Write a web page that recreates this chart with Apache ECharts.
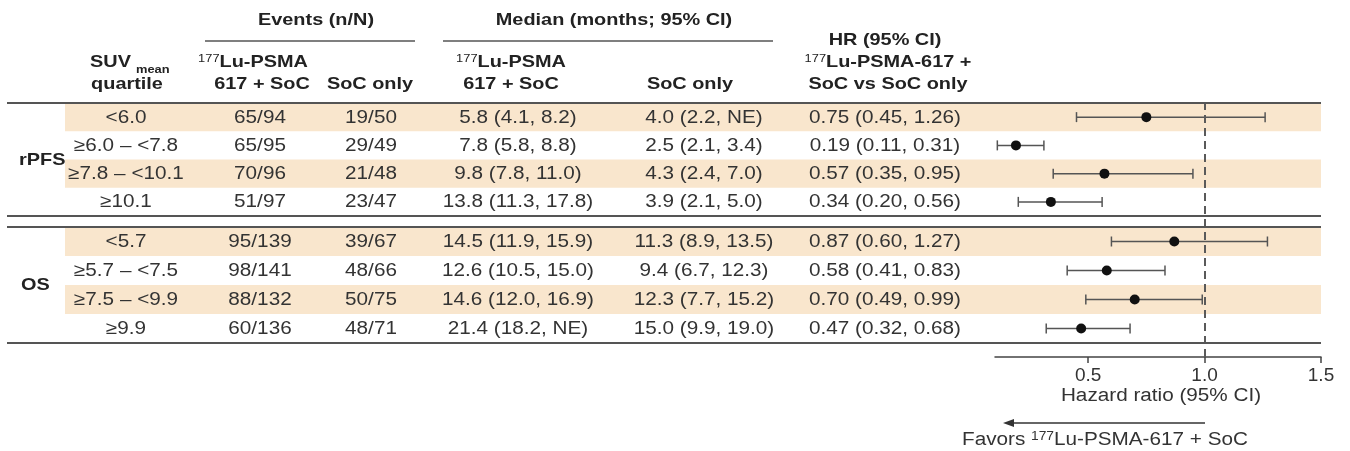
<!DOCTYPE html>
<html>
<head>
<meta charset="utf-8">
<script src="https://cdn.jsdelivr.net/npm/echarts@6/dist/echarts.min.js"></script>
<style>
  html, body { margin: 0; padding: 0; background: #fff; }
  #chart { width: 1350px; height: 451px; }
</style>
</head>
<body>
<div id="chart"></div>
<script>
// ---- data ----
const rowIds = ['0', '1', '2', '3'];

const rpfsQuartiles = ['<6.0', '≥6.0 – <7.8', '≥7.8 – <10.1', '≥10.1'];
const rpfsEventsLu = ['65/94', '65/95', '70/96', '51/97'];
const rpfsEventsSoc = ['19/50', '29/49', '21/48', '23/47'];
const rpfsMedianLu = ['5.8 (4.1, 8.2)', '7.8 (5.8, 8.8)', '9.8 (7.8, 11.0)', '13.8 (11.3, 17.8)'];
const rpfsMedianSoc = ['4.0 (2.2, NE)', '2.5 (2.1, 3.4)', '4.3 (2.4, 7.0)', '3.9 (2.1, 5.0)'];
const rpfsHr = [0.75, 0.19, 0.57, 0.34];
const rpfsHrLow = [0.45, 0.11, 0.35, 0.20];
const rpfsHrHigh = [1.26, 0.31, 0.95, 0.56];

const osQuartiles = ['<5.7', '≥5.7 – <7.5', '≥7.5 – <9.9', '≥9.9'];
const osEventsLu = ['95/139', '98/141', '88/132', '60/136'];
const osEventsSoc = ['39/67', '48/66', '50/75', '48/71'];
const osMedianLu = ['14.5 (11.9, 15.9)', '12.6 (10.5, 15.0)', '14.6 (12.0, 16.9)', '21.4 (18.2, NE)'];
const osMedianSoc = ['11.3 (8.9, 13.5)', '9.4 (6.7, 12.3)', '12.3 (7.7, 15.2)', '15.0 (9.9, 19.0)'];
const osHr = [0.87, 0.58, 0.70, 0.47];
const osHrLow = [0.60, 0.41, 0.49, 0.32];
const osHrHigh = [1.27, 0.83, 0.99, 0.68];

const hrTicks = [0.5, 1.0, 1.5];
const hrMin = 0.1, hrMax = 1.5, hrRef = 1.0;

// ---- styling ----
const FONT = '"Liberation Sans", Arial, Helvetica, sans-serif';
const SX = 1.15;             // horizontal stretch applied to table text
const SXB = 1.17;            // stretch for bold header text
const TXT = '#333333';
const HEAD = '#222222';
const BAND = '#F9E6CD';
const RULE = '#555555';
const supRich = {
  s: { fontSize: 11, fontFamily: FONT, verticalAlign: 'top', lineHeight: 12, fill: HEAD, color: HEAD },
  sn: { fontSize: 12, fontFamily: FONT, verticalAlign: 'top', lineHeight: 12, fill: TXT, color: TXT }
};

function txt(x, y, text, o) {
  o = o || {};
  const align = o.align || 'center';
  const weight = o.bold ? 'bold ' : '';
  const size = o.size || (o.bold ? 17 : 18);
  return {
    type: 'text', x: x, y: y, scaleX: o.bold ? SXB : SX, silent: true, z: o.z || 10,
    style: {
      text: text, x: 0, y: 0,
      font: weight + size + 'px ' + FONT,
      fill: o.color || (o.bold ? HEAD : TXT),
      align: align, textAlign: align,
      verticalAlign: 'middle', textVerticalAlign: 'middle',
      rich: o.rich
    }
  };
}

function hrText(h, l, u) {
  return h.toFixed(2) + ' (' + l.toFixed(2) + ', ' + u.toFixed(2) + ')';
}

// column centres of the table
const COL = { quart: 126, evLu: 260, evSoc: 371, medLu: 518, medSoc: 704, hr: 885 };
const BAND_LEFT = 65;

function tableSeries(idx, q, eLu, eSoc, mLu, mSoc, hr, lo, hi) {
  return {
    type: 'custom', xAxisIndex: idx, yAxisIndex: idx, z: 1, silent: true, clip: false,
    data: q.map((_, i) => [hrMin, i]),
    encode: { x: 0, y: 1 },
    renderItem: function (params, api) {
      const i = api.value(1);
      const c = api.coord([api.value(0), i]);
      const h = api.size([0, 1])[1];
      const cs = params.coordSys;
      const y = c[1] + 0.5;
      const kids = [];
      if (i % 2 === 0) {
        kids.push({ type: 'rect', shape: { x: BAND_LEFT, y: c[1] - h / 2, width: cs.x + cs.width - BAND_LEFT, height: h },
          style: { fill: BAND }, z2: 0 });
      }
      kids.push(txt(COL.quart, y, q[i]));
      kids.push(txt(COL.evLu, y, eLu[i]));
      kids.push(txt(COL.evSoc, y, eSoc[i]));
      kids.push(txt(COL.medLu, y, mLu[i]));
      kids.push(txt(COL.medSoc, y, mSoc[i]));
      kids.push(txt(COL.hr, y, hrText(hr[i], lo[i], hi[i])));
      return { type: 'group', children: kids };
    }
  };
}

function ciSeries(idx, lo, hi) {
  return {
    type: 'custom', xAxisIndex: idx, yAxisIndex: idx, z: 4, silent: true, clip: false,
    data: lo.map((l, i) => [l, hi[i], i]),
    encode: { x: [0, 1], y: 2 },
    renderItem: function (params, api) {
      const a = api.coord([api.value(0), api.value(2)]);
      const b = api.coord([api.value(1), api.value(2)]);
      const cap = 5;
      const st = { stroke: '#555', lineWidth: 1.5 };
      return {
        type: 'group', children: [
          { type: 'line', shape: { x1: a[0], y1: a[1], x2: b[0], y2: b[1] }, style: st },
          { type: 'line', shape: { x1: a[0], y1: a[1] - cap, x2: a[0], y2: a[1] + cap }, style: st },
          { type: 'line', shape: { x1: b[0], y1: b[1] - cap, x2: b[0], y2: b[1] + cap }, style: st }
        ]
      };
    }
  };
}

function pointSeries(idx, hr) {
  return {
    type: 'scatter', xAxisIndex: idx, yAxisIndex: idx, z: 5, silent: true,
    symbol: 'circle', symbolSize: 10,
    itemStyle: { color: '#111', opacity: 1 },
    data: hr.map((v, i) => [v, i])
  };
}

const GRID_LEFT = 995, GRID_RIGHT = 29;
const hiddenX = { type: 'value', min: hrMin, max: hrMax, show: false };
const catY = { type: 'category', data: rowIds, inverse: true, show: false };

const chart = echarts.init(document.getElementById('chart'), null, { renderer: 'canvas' });

const graphics = [];
// table rules
[103, 216, 227, 343].forEach(y => graphics.push({
  type: 'line', silent: true, z: 6, shape: { x1: 7, y1: y, x2: 1321, y2: y }, style: { stroke: RULE, lineWidth: 2 }
}));
// spanner underlines
graphics.push({ type: 'line', silent: true, shape: { x1: 205, y1: 41, x2: 415, y2: 41 }, style: { stroke: RULE, lineWidth: 1.5 } });
graphics.push({ type: 'line', silent: true, shape: { x1: 443, y1: 41, x2: 773, y2: 41 }, style: { stroke: RULE, lineWidth: 1.5 } });

// headers
graphics.push(txt(316, 20, 'Events (n/N)', { bold: true }));
graphics.push(txt(614, 20, 'Median (months; 95% CI)', { bold: true }));
graphics.push(txt(885, 40, 'HR (95% CI)', { bold: true }));
graphics.push(txt(888, 62, '{s|177}Lu-PSMA-617 +', { bold: true, rich: supRich }));
graphics.push(txt(888, 84, 'SoC vs SoC only', { bold: true }));
graphics.push(txt(90, 62, 'SUV', { bold: true, align: 'left' }));
graphics.push(txt(136, 70, 'mean', { bold: true, align: 'left', size: 11 }));
graphics.push(txt(127, 84, 'quartile', { bold: true }));
graphics.push(txt(253, 62, '{s|177}Lu-PSMA', { bold: true, rich: supRich }));
graphics.push(txt(262, 84, '617 + SoC', { bold: true }));
graphics.push(txt(370, 84, 'SoC only', { bold: true }));
graphics.push(txt(511, 62, '{s|177}Lu-PSMA', { bold: true, rich: supRich }));
graphics.push(txt(511, 84, '617 + SoC', { bold: true }));
graphics.push(txt(690, 84, 'SoC only', { bold: true }));
// row group labels
graphics.push(txt(19, 160, 'rPFS', { bold: true, align: 'left' }));
graphics.push(txt(21, 285, 'OS', { bold: true, align: 'left' }));

// axis title and direction note
graphics.push(txt(1161, 396, 'Hazard ratio (95% CI)'));
graphics.push({ type: 'line', silent: true, shape: { x1: 1205, y1: 423, x2: 1010, y2: 423 }, style: { stroke: '#333', lineWidth: 1.5 } });
graphics.push({ type: 'polygon', silent: true, shape: { points: [[1003, 423], [1014, 419], [1014, 427]] }, style: { fill: '#333' } });
graphics.push(txt(962, 440, 'Favors {sn|177}Lu-PSMA-617 + SoC', { align: 'left', rich: supRich }));

chart.setOption({
  animation: false,
  backgroundColor: '#fff',
  grid: [
    { left: GRID_LEFT, right: GRID_RIGHT, top: 103, height: 113 },
    { left: GRID_LEFT, right: GRID_RIGHT, top: 227, height: 116 },
    { left: GRID_LEFT, right: GRID_RIGHT, top: 103, height: 254 }
  ],
  xAxis: [
    Object.assign({ gridIndex: 0 }, hiddenX),
    Object.assign({ gridIndex: 1 }, hiddenX),
    {
      gridIndex: 2, type: 'value', min: hrMin, max: hrMax, position: 'bottom',
      splitLine: { show: false },
      axisLine: { show: true, lineStyle: { color: '#444', width: 1.5 } },
      axisTick: { show: true, length: 6, customValues: hrTicks, lineStyle: { color: '#444', width: 1.5 } },
      axisLabel: {
        show: true, customValues: hrTicks, margin: 9,
        fontFamily: FONT, fontSize: 19, color: TXT,
        formatter: v => v.toFixed(1)
      }
    }
  ],
  yAxis: [
    Object.assign({ gridIndex: 0 }, catY),
    Object.assign({ gridIndex: 1 }, catY),
    { gridIndex: 2, type: 'value', min: 0, max: 1, show: false }
  ],
  graphic: { elements: graphics },
  series: [
    tableSeries(0, rpfsQuartiles, rpfsEventsLu, rpfsEventsSoc, rpfsMedianLu, rpfsMedianSoc, rpfsHr, rpfsHrLow, rpfsHrHigh),
    tableSeries(1, osQuartiles, osEventsLu, osEventsSoc, osMedianLu, osMedianSoc, osHr, osHrLow, osHrHigh),
    {
      type: 'line', xAxisIndex: 2, yAxisIndex: 2, data: [], z: 3, silent: true,
      markLine: {
        silent: true, symbol: 'none', animation: false,
        label: { show: false },
        lineStyle: { color: '#5a5a5a', width: 2, type: [8, 5] },
        data: [{ xAxis: hrRef }]
      }
    },
    ciSeries(0, rpfsHrLow, rpfsHrHigh),
    ciSeries(1, osHrLow, osHrHigh),
    pointSeries(0, rpfsHr),
    pointSeries(1, osHr)
  ]
});
</script>
</body>
</html>
